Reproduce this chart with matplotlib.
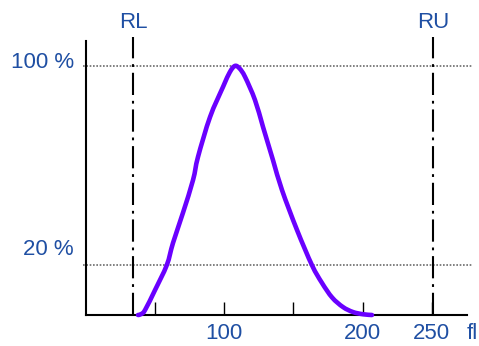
import matplotlib
matplotlib.use("Agg")
import matplotlib.pyplot as plt
from matplotlib.path import Path
from matplotlib.patches import PathPatch
import numpy as np

plt.rcParams['font.family'] = ['Liberation Sans', 'DejaVu Sans']
plt.rcParams['lines.scale_dashes'] = False

# data
volume_fl = [37.6, 40.0, 42.7, 49.9, 58.4, 62.9, 70.1, 77.4, 81.0, 89.7, 99.1,
             104.0, 107.7, 111.0, 115.0, 122.2, 128.0, 135.2, 141.7, 152.6,
             163.4, 170.6, 178.0, 185.8, 193.0, 200.3, 206.8]
percent = [0.0, 0.4, 2.0, 10.0, 20.0, 28.9, 41.0, 54.2, 63.5, 79.5, 91.6,
           97.5, 100.0, 99.0, 95.6, 86.3, 75.5, 62.2, 50.2, 34.1,
           20.0, 12.9, 7.0, 3.2, 1.2, 0.3, 0.0]
ref_lines = [20, 100]
ref_labels = ['20 %', '100 %']
RL, RU = 34, 251
xticks = [50, 100, 150, 200, 250]
xtick_labels = ['', '100', '', '200', '250']

blue = '#1f4fa3'
purple = '#6a00ff'
fs = 16

fig = plt.figure(figsize=(4.79, 3.46), dpi=100)
ax = fig.add_axes([86/479, 31/346, (467-86)/479, (315-41)/346])
ax.set_xlim(0, 275.5)
ax.set_ylim(0, 110)

for s in ['top', 'right']:
    ax.spines[s].set_visible(False)
for s in ['left', 'bottom']:
    ax.spines[s].set_linewidth(1.5)

# dotted reference lines
for y in ref_lines:
    ax.plot([-2, 279], [y, y], color='#808080', lw=1.4,
            linestyle=(0, (1.2, 1.2)), clip_on=False, zorder=1)

# RL / RU dash-dot lines
for xv in [RL, RU]:
    ax.plot([xv, xv], [0, 111.5], color='black', lw=1.5,
            dashes=(16, 4.2, 2, 4.2), clip_on=False, zorder=2)

ax.text(RL, 117.3, 'RL', color=blue, fontsize=fs, ha='center', va='center')
ax.text(RU, 117.3, 'RU', color=blue, fontsize=fs, ha='center', va='center')

# smooth curve through the read points (Catmull-Rom drawn as Bezier path)
P = np.column_stack([volume_fl, percent])
verts = [P[0]]
codes = [Path.MOVETO]
for i in range(len(P) - 1):
    p0 = P[i - 1] if i > 0 else P[i]
    p1 = P[i]
    p2 = P[i + 1]
    p3 = P[i + 2] if i + 2 < len(P) else P[i + 1]
    c1 = p1 + (p2 - p0) / 6.0
    c2 = p2 - (p3 - p1) / 6.0
    verts += [c1, c2, p2]
    codes += [Path.CURVE4] * 3
patch = PathPatch(Path(verts, codes), facecolor='none', edgecolor=purple,
                  lw=3.3, capstyle='round', joinstyle='round', zorder=3,
                  clip_on=False)
ax.add_patch(patch)

ax.set_xticks(xticks)
ax.set_xticklabels(xtick_labels)
ax.tick_params(axis='x', direction='in', length=9.5, width=1, pad=6,
               labelsize=fs, labelcolor=blue)
ax.set_yticks([])

ax.text(275, 0, 'fl', color=blue, fontsize=fs, ha='left', va='top',
        transform=ax.transData + matplotlib.transforms.ScaledTranslation(0, -6/72, fig.dpi_scale_trans))

label_y = [26.1, 101.2]
for yv, lab in zip(label_y, ref_labels):
    ax.annotate(lab, xy=(0, yv), xytext=(-12, 0), textcoords='offset pixels',
                color=blue, fontsize=fs, ha='right', va='center', annotation_clip=False)

fig.savefig('out.png', dpi=100)
